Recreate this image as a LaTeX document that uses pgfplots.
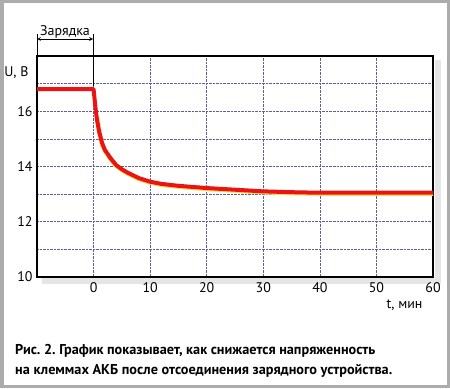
\documentclass[border=0pt]{standalone}
\usepackage{fontspec}
\setmainfont{PT Sans}
\usepackage{pgfplots}
\pgfplotsset{compat=1.18}
\frenchspacing
\definecolor{gridc}{RGB}{95,95,150}
\definecolor{curvec}{RGB}{235,20,20}
\definecolor{halo}{RGB}{255,220,80}
\begin{document}
\begin{tikzpicture}[x=1bp,y=1bp]
\useasboundingbox (0,0) rectangle (450,388);
\fill[white] (0,0) rectangle (450,388);
\draw[gray!65, line width=3.5bp] (1.75,1.75) rectangle (448.25,386.25);
% shadow
\fill[gray!20] (435,105) rectangle (441,328);
\fill[gray!20] (42,104) rectangle (441,110);
\begin{axis}[
  at={(37bp,111bp)}, anchor=south west,
  width=396bp, height=221bp, scale only axis,
  xmin=-10, xmax=60, ymin=10, ymax=18,
  xtick={0,10,...,60}, ytick={10,12,14,16},
  minor ytick={11,13,15,17},
  grid=both,
  major grid style={densely dotted, gridc, line width=0.6bp},
  minor grid style={densely dotted, gridc, line width=0.6bp},
  major tick length=0pt, minor tick length=0pt,
  axis line style={line width=2.4bp, black},
  /pgf/number format/assume math mode=true,
  ticklabel style={font=\fontsize{14}{14}\selectfont},
  xticklabel style={yshift=-2bp},
  yticklabel style={xshift=-1bp},
  clip=false,
]
\addplot[halo, line width=4.5bp, line join=round, yshift=-0.8bp] coordinates {
(0.6,15.8)(1,15.3)(1.5,14.85)(2,14.6)(3,14.3)(4,14.05)(5,13.9)(6,13.78)(7,13.68)(8,13.58)(10,13.45)(12,13.37)(15,13.3)(20,13.22)(25,13.16)(30,13.1)(35,13.07)(40,13.05)(50,13.05)(60,13.05)};
\addplot[curvec, line width=4bp, line join=round] coordinates {
(-10,16.8)(0,16.8)(0.15,16.5)(0.35,16.1)(0.6,15.7)(1,15.25)(1.5,14.85)(2,14.6)(3,14.3)(4,14.05)(5,13.9)(6,13.78)(7,13.68)(8,13.58)(10,13.45)(12,13.37)(15,13.3)(20,13.22)(25,13.16)(30,13.1)(35,13.07)(40,13.05)(50,13.05)(60,13.05)};
\end{axis}
% Zarjadka marker
\draw[black, line width=0.8bp] (37,332) -- (37,354);
\draw[black, line width=0.9bp] (93,302) -- (93,354);
\draw[black, line width=0.7bp, <->, >=stealth] (37,349) -- (93,349);
\node[font=\fontsize{14}{14}\selectfont, anchor=base] at (65,353) {Зарядка};
\node[font=\fontsize{14}{14}\selectfont, anchor=base east] at (32,312) {U, В};
\node[font=\fontsize{14}{14}\selectfont, anchor=base east] at (426,80) {t, мин};
\node[font=\bfseries\fontsize{14.3}{15}\selectfont, anchor=base west, inner sep=0] at (15,33.5) {Рис. 2. График показывает, как снижается напряженность};
\node[font=\bfseries\fontsize{14.3}{15}\selectfont, anchor=base west, inner sep=0] at (15,13.5) {на клеммах АКБ после отсоединения зарядного устройства.};
\end{tikzpicture}
\end{document}
